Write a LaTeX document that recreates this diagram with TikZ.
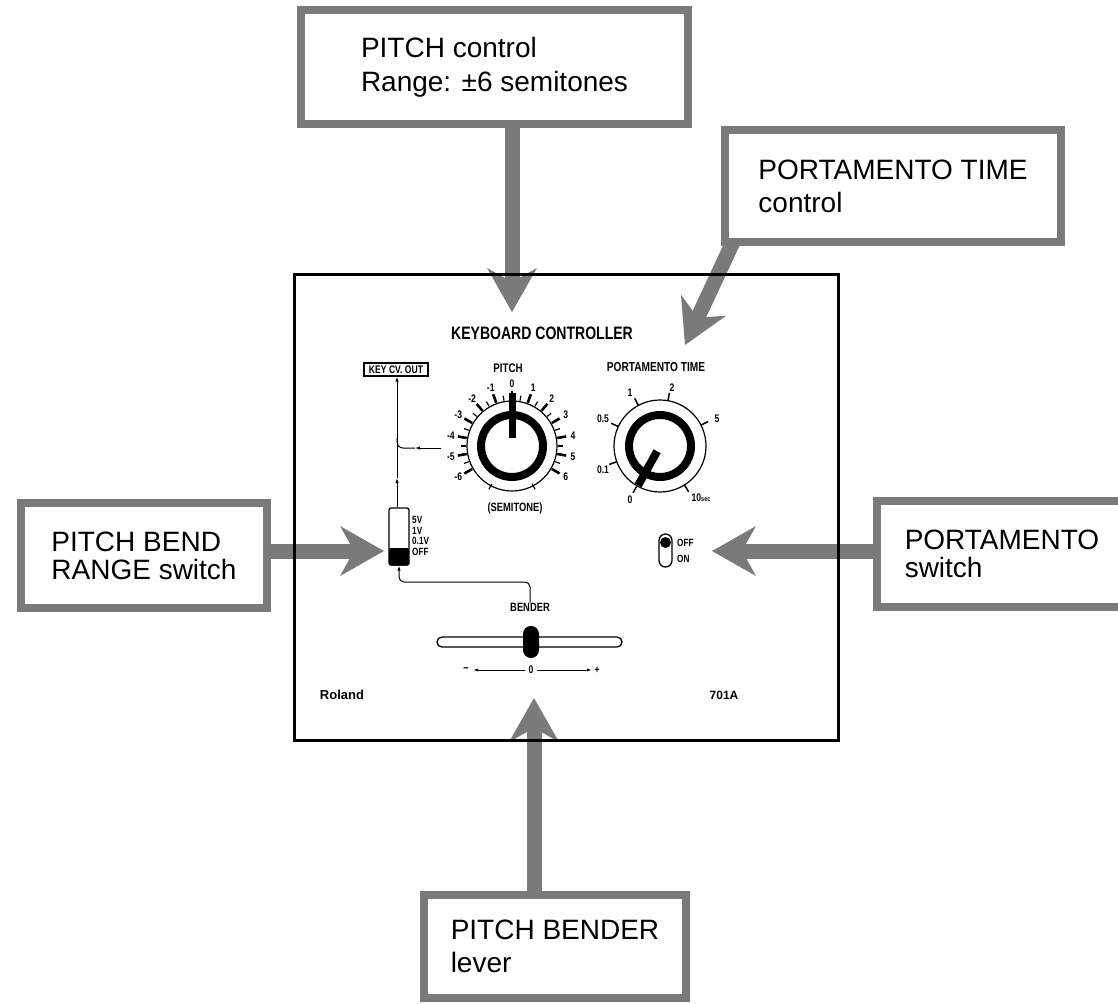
\documentclass[tikz,border=0pt]{standalone}
\usepackage{fontspec}
\setmainfont{Liberation Sans}
\usetikzlibrary{arrows.meta,calc}
\pgfdeclarelayer{background}
\pgfsetlayers{background,main}
\colorlet{scan}{black!52}
\newcommand{\pbf}[2]{{\fontsize{#1}{#1}\selectfont\bfseries\scalebox{0.78}[1]{#2}}}
\tikzset{
  labelbox/.style={draw=scan, line width=8pt, fill=white, inner sep=0pt, align=left, font=\fontsize{28}{#1}\selectfont},
  bigarrow/.style={draw=scan, line width=15pt, -{Stealth[length=44pt, width=50pt, inset=14pt, line width=0pt]}},
  thinline/.style={line width=1pt},
  smalltip/.style={-{Latex[length=5pt, width=3.5pt]}},
  lbl/.style={inner sep=0pt},
  majortick/.style={line width=2.6pt},
  minortick/.style={line width=1.2pt},
}
\begin{document}
\begin{tikzpicture}[x=1pt, y=-1pt]
\useasboundingbox (0,0) rectangle (1118,1003);

% ---------- callout boxes ----------
\node[labelbox=34, minimum width=387, minimum height=114] (pitchbox) at (494.5,67) {PITCH control\\Range: ±6 semitones};
\node[labelbox=33, minimum width=336, minimum height=112] (ptbox) at (893,186) {PORTAMENTO TIME\\control};
\node[labelbox=28, minimum width=246, minimum height=105] (pbrbox) at (144,555.5) {PITCH BEND\\RANGE switch};
\node[labelbox=28, minimum width=250, minimum height=106] (psbox) at (1002,554) {PORTAMENTO\\switch};
\node[labelbox=33, minimum width=262, minimum height=103] (bbox) at (555,946.5) {PITCH BENDER\\lever};

% ---------- panel ----------
\node[draw, line width=3pt, minimum width=544, minimum height=466, inner sep=0pt] (panel) at (566,507) {};

\node[lbl] (title) at (542,333) {\pbf{18}{KEYBOARD CONTROLLER}};
\node[lbl] (pitchlbl) at (508,368) {\pbf{12.5}{PITCH}};
\node[lbl] (ptlbl) at (656,367) {\pbf{13}{PORTAMENTO TIME}};
\node[lbl] (semi) at (515,508) {\pbf{12}{(SEMITONE)}};
\node[lbl] (roland) at (342,695) {\fontsize{13}{13}\selectfont\bfseries Roland};
\node[lbl] (model) at (724,695) {\fontsize{12}{12}\selectfont\bfseries 701A};

% pitch knob
\coordinate (pk) at (512,446);
\draw[line width=1.2pt] (pk) circle[radius=45];
\draw[line width=8pt] (pk) circle[radius=31];
\draw[line width=7pt] ($(pk)+(0,-8)$) -- ($(pk)+(0,-53)$);
\foreach \k in {-6,...,6} {
  \draw[majortick] ($(pk)+({20*\k-90}:46)$) -- ($(pk)+({20*\k-90}:55)$);
  \node[lbl] at ($(pk)+({20*\k-90}:62)$) {\pbf{11}{\k}};
}
\foreach \k in {-5.5,-4.5,...,5.5} {
  \draw[minortick] ($(pk)+({20*\k-90}:46)$) -- ($(pk)+({20*\k-90}:51)$);
}
\draw[minortick] ($(pk)+(118:43)$) -- ($(pk)+(118:49)$);
\draw[minortick] ($(pk)+(62:43)$) -- ($(pk)+(62:49)$);

% portamento time knob
\coordinate (tk) at (660,446);
\draw[line width=1.2pt] (tk) circle[radius=46];
\draw[line width=8pt] (tk) circle[radius=31];
\draw[line width=8pt] ($(tk)+(119:6)$) -- ($(tk)+(119:45)$);
\foreach \a in {-240,-200,-155,-118,-80,-27,58} {
  \draw[line width=1.5pt] ($(tk)+(\a:46)$) -- ($(tk)+(\a:54)$);
}
\node[lbl] at (630,500) {\pbf{11}{0}};
\node[lbl] at (603,470) {\pbf{11}{0.1}};
\node[lbl] at (603,419) {\pbf{11}{0.5}};
\node[lbl] at (630,393) {\pbf{11}{1}};
\node[lbl] at (672,388) {\pbf{11}{2}};
\node[lbl] at (717,419) {\pbf{11}{5}};
\node[lbl] at (701,498) {\pbf{11}{10}\pbf{7}{sec}};

% KEY CV OUT
\node[draw, line width=1.2pt, minimum width=64, minimum height=13, inner sep=0pt] (kcv) at (396,369.5) {\pbf{11}{KEY CV. OUT}};

% pitch bend range switch
\node[draw, line width=1.3pt, rounded corners=2pt, minimum width=20, minimum height=57, inner sep=0pt] (sw) at (399,536.5) {};
\fill[rounded corners=2pt] (389,548) rectangle (409,565.5);
\node[lbl, anchor=west] at (412,520) {\pbf{10.5}{5V}};
\node[lbl, anchor=west] at (412,530.5) {\pbf{10.5}{1V}};
\node[lbl, anchor=west] at (412,541) {\pbf{10.5}{0.1V}};
\node[lbl, anchor=west] at (412,552) {\pbf{10.5}{OFF}};

% signal lines
\coordinate (mid) at (397,478);
\coordinate (pkout) at (441,448);
\coordinate (pkmid) at (415,448);
\draw[thinline, smalltip] (sw.north -| mid) -- (mid);
\draw[thinline, smalltip] (mid) -- (kcv.south -| mid);
\draw[thinline, smalltip] (pkout) -- (pkmid);
\draw[thinline, rounded corners=6pt] (pkmid) -- (397,448) -- (397,438);

% portamento switch
\node[draw, line width=1.3pt, rounded corners=6.5pt, minimum width=13, minimum height=33, inner sep=0pt] (ps) at (665.5,550.5) {};
\fill (665.5,542.5) circle[radius=5.5];
\node[lbl, anchor=west] at (677,543) {\pbf{10.5}{OFF}};
\node[lbl, anchor=west] at (677,559) {\pbf{10.5}{ON}};

% bender
\node[lbl] (bend) at (530,607) {\pbf{12}{BENDER}};
\draw[thinline, {Latex[length=5pt, width=3.5pt]}-, rounded corners=5pt] (sw.south) -- (399,582) -| (bend.north);
\node[draw, line width=1.3pt, rounded corners=5pt, minimum width=185, minimum height=10, inner sep=0pt] (slot) at (529.5,642) {};
\node[fill, rounded corners=7.9pt, minimum width=16, minimum height=32, inner sep=0pt] (knob) at (531,642) {};
\node[lbl] (minus) at (466,670) {\pbf{12}{–}};
\node[lbl] (zero) at (531,670) {\pbf{11}{0}};
\node[lbl] (plus) at (597,670) {\pbf{11}{+}};
\draw[line width=0.9pt, -{Latex[length=5pt, width=3pt]}] (zero.west) ++(-3,0) -- (473,670);
\draw[line width=0.9pt, -{Latex[length=5pt, width=3pt]}] (zero.east) ++(3,0) -- (592,670);

% ---------- big grey arrows ----------
\coordinate (tipP) at (512,312);
\coordinate (tipT) at (685,345);
\coordinate (tipL) at (384,551);
\coordinate (tipR) at (712,551);
\coordinate (tipB) at (534,698);
\begin{pgfonlayer}{background}
\draw[bigarrow] (pitchbox.south -| tipP) -- (tipP);
\draw[bigarrow] ($(ptbox.south west)+(12,-4)$) -- (tipT);
\draw[bigarrow] (pbrbox.east |- tipL) -- (tipL);
\draw[bigarrow] (psbox.west |- tipR) -- (tipR);
\draw[bigarrow] (bbox.north -| tipB) -- (tipB);
\end{pgfonlayer}
\end{tikzpicture}
\end{document}
